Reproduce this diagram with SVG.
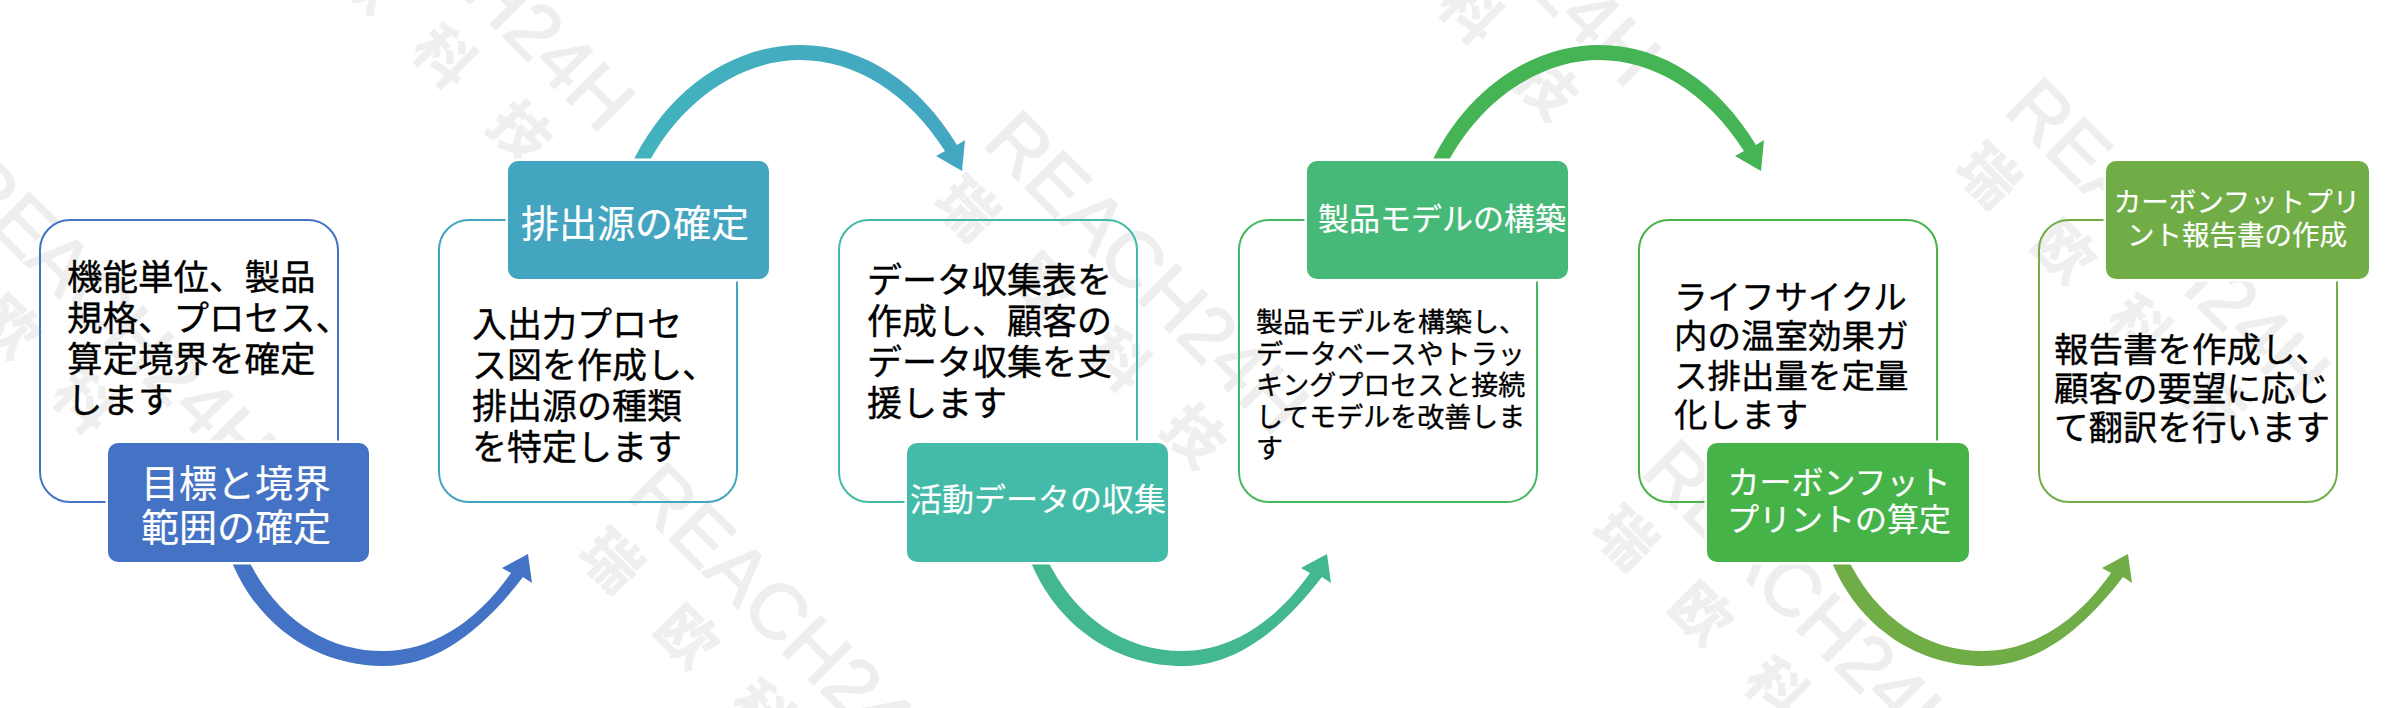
<svg xmlns="http://www.w3.org/2000/svg" width="2408" height="708" viewBox="0 0 2408 708">
<style>
text{font-family:"Noto Sans CJK JP","Noto Sans",sans-serif}
.wm{font-family:"Liberation Sans",sans-serif;font-size:78px;fill:#eeeeee;stroke:#eeeeee;stroke-width:1.5}
.wc{font-family:"Noto Sans CJK SC",sans-serif;font-size:58px;font-weight:700;fill:#efefef;stroke:#efefef;stroke-width:1;letter-spacing:49px}
.box{fill:none;stroke-width:2}
.title{stroke:#fff;stroke-width:5;paint-order:stroke}
.t{fill:#fff;text-anchor:middle;stroke:#fff;stroke-width:.2}
.b{fill:#000;stroke:#000;stroke-width:.35}
</style>
<defs>
<path id="down" d="M229,555 C258,632 323,666 383,666 C435,666 480,633 523,577 L532,583 L528,554 L502,568 L511,573 C475,624 430,651 383,651 C328,651 276,620 246,555 Z"/>
<path id="up" d="M629,170 C663,93 730,45 800,45 C865,45 920,84 957,145 L965,140 L962,171 L936,156 L945,151 C908,93 855,60 800,60 C740,60 678,102 645,170 Z"/>
<linearGradient id="g2" x1="0" x2="1" y1="0" y2="0"><stop offset="0" stop-color="#42B3BD"/><stop offset="1" stop-color="#43A6C2"/></linearGradient>
<g id="mark"><text class="wm" transform="rotate(45)">REACH24H</text></g>
<g id="markc"><text class="wc" transform="rotate(45)">瑞欧科技</text></g>
</defs>
<rect width="2408" height="708" fill="#fff"/>
<g id="watermarks">
<use href="#mark" x="-53" y="186"/><use href="#markc" x="-102" y="245"/>
<use href="#mark" x="307" y="-159"/><use href="#markc" x="258" y="-100"/>
<use href="#mark" x="625" y="496"/><use href="#markc" x="576" y="555"/>
<use href="#mark" x="981" y="144"/><use href="#markc" x="932" y="203"/>
<use href="#mark" x="1333" y="-204"/><use href="#markc" x="1284" y="-145"/>
<use href="#mark" x="1639" y="473"/><use href="#markc" x="1590" y="532"/>
<use href="#mark" x="2002" y="111"/><use href="#markc" x="1953" y="170"/>
</g>
<g id="connectors">
<use href="#down" fill="#4472C4"/>
<use href="#up" fill="url(#g2)"/>
<use href="#down" x="799" fill="#43B88E"/>
<use href="#up" x="799" fill="#45B454"/>
<use href="#down" x="1600" fill="#70AD47"/>
</g>
<g id="node1">
<rect class="box" x="40" y="220" width="298" height="282" rx="30" stroke="#4472C4"/>
<text class="b" font-size="35.5"><tspan x="67" y="290">機能単位、製品</tspan><tspan x="67" y="331">規格、プロセス、</tspan><tspan x="67" y="372">算定境界を確定</tspan><tspan x="67" y="413">します</tspan></text>
<rect class="title" x="108" y="443" width="261" height="119" rx="10" fill="#4472C4"/>
<text class="t" font-size="38"><tspan x="236" y="497">目標と境界</tspan><tspan x="236" y="541">範囲の確定</tspan></text>
</g>
<g id="node2">
<rect class="box" x="439" y="220" width="298" height="282" rx="30" stroke="#42A4BF"/>
<text class="b" font-size="35"><tspan x="472" y="337">入出力プロセ</tspan><tspan x="472" y="378">ス図を作成し、</tspan><tspan x="472" y="419">排出源の種類</tspan><tspan x="472" y="460">を特定します</tspan></text>
<rect class="title" x="508" y="161" width="261" height="118" rx="10" fill="#43A5C0"/>
<text class="t" font-size="38" x="635" y="237">排出源の確定</text>
</g>
<g id="node3">
<rect class="box" x="839" y="220" width="298" height="282" rx="30" stroke="#43BAA8"/>
<text class="b" font-size="35"><tspan x="867" y="293">データ収集表を</tspan><tspan x="867" y="334">作成し、顧客の</tspan><tspan x="867" y="375">データ収集を支</tspan><tspan x="867" y="416">援します</tspan></text>
<rect class="title" x="907" y="443" width="261" height="119" rx="10" fill="#43BBA8"/>
<text class="t" font-size="32" x="1038" y="511">活動データの収集</text>
</g>
<g id="node4">
<rect class="box" x="1239" y="220" width="298" height="282" rx="30" stroke="#46B85F"/>
<text class="b" font-size="27"><tspan x="1256" y="332">製品モデルを構築し、</tspan><tspan x="1256" y="364">データベースやトラッ</tspan><tspan x="1256" y="395">キングプロセスと接続</tspan><tspan x="1256" y="427">してモデルを改善しま</tspan><tspan x="1256" y="458">す</tspan></text>
<rect class="title" x="1307" y="161" width="261" height="118" rx="10" fill="#46B978"/>
<text class="t" font-size="31" x="1442" y="230">製品モデルの構築</text>
</g>
<g id="node5">
<rect class="box" x="1639" y="220" width="298" height="282" rx="30" stroke="#47B247"/>
<text class="b" font-size="33.5"><tspan x="1674" y="309">ライフサイクル</tspan><tspan x="1674" y="348">内の温室効果ガ</tspan><tspan x="1674" y="388">ス排出量を定量</tspan><tspan x="1674" y="427">化します</tspan></text>
<rect class="title" x="1707" y="443" width="262" height="119" rx="10" fill="#46B349"/>
<text class="t" font-size="32"><tspan x="1839" y="494">カーボンフット</tspan><tspan x="1839" y="531">プリントの算定</tspan></text>
</g>
<g id="node6">
<rect class="box" x="2039" y="220" width="298" height="282" rx="30" stroke="#70AD47"/>
<text class="b" font-size="34.5"><tspan x="2054" y="362">報告書を作成し、</tspan><tspan x="2054" y="401">顧客の要望に応じ</tspan><tspan x="2054" y="440">て翻訳を行います</tspan></text>
<rect class="title" x="2106" y="161" width="263" height="118" rx="10" fill="#70AD47"/>
<text class="t" font-size="27.5"><tspan x="2237" y="212">カーボンフットプリ</tspan><tspan x="2237" y="245">ント報告書の作成</tspan></text>
</g>
</svg>
